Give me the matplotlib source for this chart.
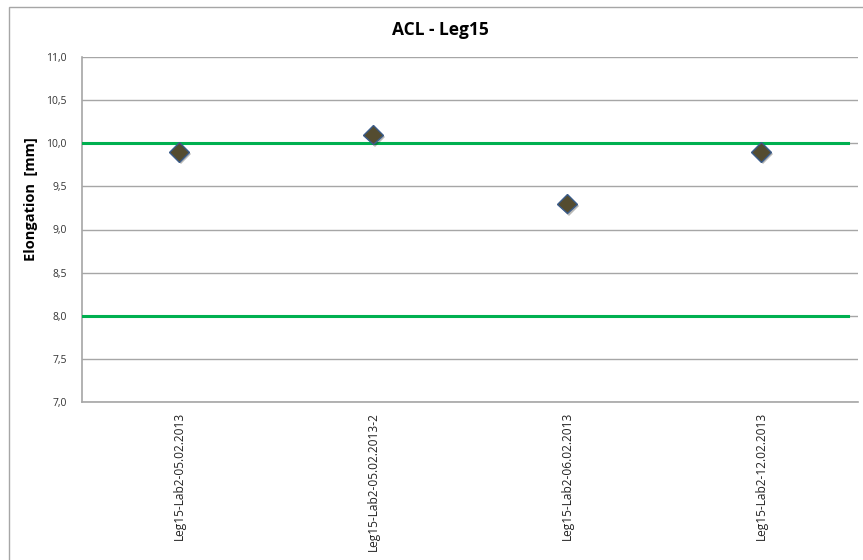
import matplotlib
matplotlib.use("Agg")
import matplotlib.pyplot as plt
from matplotlib.patches import Rectangle
import matplotlib.patheffects as pe

categories = ["Leg15-Lab2-05.02.2013", "Leg15-Lab2-05.02.2013-2",
              "Leg15-Lab2-06.02.2013", "Leg15-Lab2-12.02.2013"]
values = [9.9, 10.1, 9.3, 9.9]
limits = [10.0, 8.0]
yticks = [7.0, 7.5, 8.0, 8.5, 9.0, 9.5, 10.0, 10.5, 11.0]

plt.rcParams['font.family'] = ['Open Sans', 'DejaVu Sans']

W, H = 863, 560
fig = plt.figure(figsize=(W/100, H/100), dpi=100)
fig.patch.set_facecolor('white')

# outer chart border (cropped at right and bottom)
fig.add_artist(Rectangle((9/W, -0.05), 1.0, 1 - 7/H + 0.05, transform=fig.transFigure,
                         fill=False, edgecolor='#a6a6a6', linewidth=1.0))

left, right, top, bottom = 82, 858, 57, 402
ax = fig.add_axes([left/W, 1 - bottom/H, (right-left)/W, (bottom-top)/H])
ax.set_xlim(-0.5, len(categories) - 0.5)
ax.set_ylim(7.0, 11.0)
ax.set_yticks(yticks)
ax.set_yticklabels([f"{v:.1f}".replace('.', ',') for v in yticks], fontsize=7.5, color='#333333')
ax.set_xticks(range(len(categories)))
ax.set_xticklabels(categories, rotation=90, fontsize=8.6, color='#222222', va='top')
ax.tick_params(axis='both', length=0)
ax.tick_params(axis='y', pad=11)
ax.tick_params(axis='x', pad=7)
ax.grid(axis='y', color='#a6a6a6', linewidth=1.0)
ax.set_axisbelow(True)
for s in ['top', 'right']:
    ax.spines[s].set_visible(False)
for s in ['left', 'bottom']:
    ax.spines[s].set_color('#a6a6a6')
    ax.spines[s].set_linewidth(1.2)

for lim in limits:
    ax.axhline(lim, xmin=0, xmax=(848-left)/(right-left), color='#00b050', linewidth=2.2, zorder=3)

ax.plot(range(len(categories)), values, linestyle='none', marker='D', markersize=10,
        markerfacecolor='#544c30', markeredgecolor='#3b5c8a', markeredgewidth=1.0, zorder=4,
        path_effects=[pe.SimplePatchShadow(offset=(1.5, -1.5), alpha=0.3), pe.Normal()])

fig.text(31/W, 1 - 199/H, "Elongation  [mm]", rotation=90, ha='center', va='center',
         fontsize=10.5, fontweight='bold')
fig.text(440/W, 1 - 30/H, "ACL - Leg15", ha='center', va='center', fontsize=12.5, fontweight='bold')

fig.savefig("out.png", dpi=100)
